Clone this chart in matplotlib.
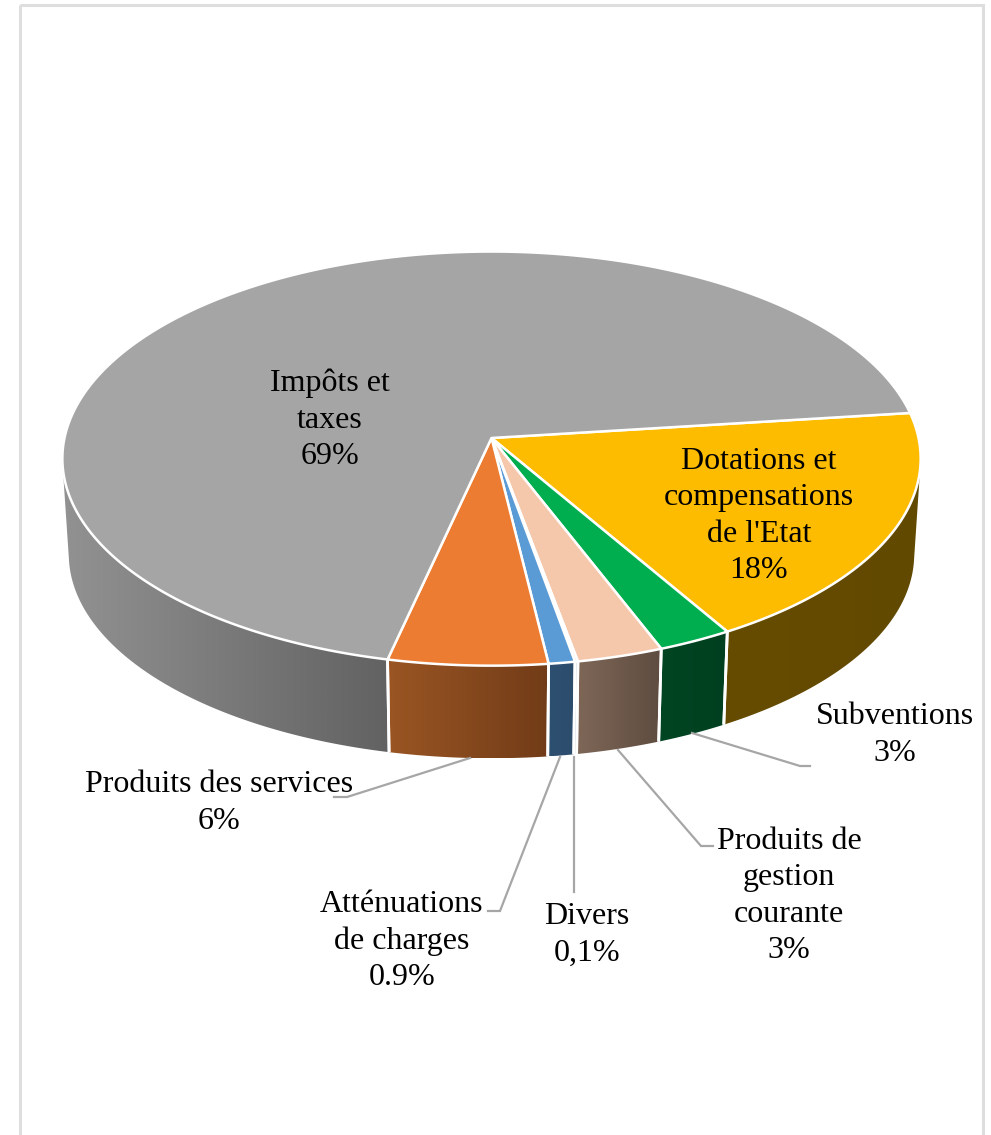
import numpy as np
import matplotlib
matplotlib.use("Agg")
import matplotlib.pyplot as plt
from matplotlib.patches import Polygon, Rectangle
from matplotlib.colors import to_rgb

# ---- data (clockwise from the Dotations slice) ----
categories = ["Dotations et\ncompensations\nde l'Etat", "Subventions", "Produits de\ngestion\ncourante",
              "Divers", "Atténuations\nde charges", "Produits des services", "Impôts et\ntaxes"]
shown_labels = ["18%", "3%", "3%", "0,1%", "0.9%", "6%", "69%"]
values = [18.55, 2.55, 2.95, 0.1, 0.9, 5.45, 69.5]

top_colors = ["#fdbc00", "#00ae4f", "#f5c8ab", "#f5d5c0", "#5b9bd5", "#eb7c31", "#a5a5a5"]
wall_left = ["#664c00", "#004522", "#7e6757", "#0f2d4a", "#2e5070", "#9a5523", "#929292"]
wall_right = ["#624900", "#004020", "#5e4c40", "#0f2d4a", "#2c4c6c", "#713c18", "#626262"]

label_pos = [(759, 516), (895, 735), (789, 896), (587, 935), (402, 941), (219, 803), (330, 420)]
leaders = [None,
           [(692, 733), (800, 766), (810, 766)],
           [(618, 750), (701, 846), (713, 846)],
           [(574, 757), (574, 892)],
           [(560, 757), (500, 911), (488, 911)],
           [(470, 758), (347, 797), (334, 797)],
           None]

# ---- geometry of the tilted disc ----
CX, CY = 491.5, 438.0
SX, SY = 427.0, 205.0
K = 0.0995
START_DEG = 7.1
DEPTH, SHRINK = 96.0, 0.985


def project(theta_deg, scale=1.0, dy=0.0):
    t = np.radians(theta_deg)
    X, Y = np.cos(t), np.sin(t)
    w = 1 + K * Y
    return CX + scale * SX * X / w, CY + dy - scale * SY * Y / w


fig = plt.figure(figsize=(9.91, 11.35), dpi=100, facecolor="white")
ax = fig.add_axes([0, 0, 1, 1])
ax.set_xlim(0, 991)
ax.set_ylim(1135, 0)
ax.axis("off")

ax.add_patch(Rectangle((20.0, 5.0), 962.5, 1160, fill=False, ec="#dedede", lw=2.2, zorder=0))

ends = START_DEG - np.cumsum(values) * 3.6
starts = np.concatenate([[START_DEG], ends[:-1]])

# visible side wall: the front part of the rim between the two silhouette tangents
FRONT = (-173.0, -7.0)
for i in [6, 5, 4, 3, 2, 1, 0]:
    a, b = starts[i], ends[i]
    intervals = []
    for shift in (0, -360):
        hi = min(a + shift, FRONT[1])
        lo = max(b + shift, FRONT[0])
        if hi > lo:
            intervals.append((lo, hi))
    for lo, hi in intervals:
        th = np.linspace(lo, hi, 120)
        tx, ty = project(th)
        bx, by = project(th, SHRINK, DEPTH)
        poly = np.column_stack([np.r_[tx, bx[::-1]], np.r_[ty, by[::-1]]])
        patch = Polygon(poly, closed=True, fc="none", ec="none", zorder=1)
        ax.add_patch(patch)
        x0, x1 = poly[:, 0].min(), poly[:, 0].max()
        grad = np.linspace(to_rgb(wall_left[i]), to_rgb(wall_right[i]), 256)[None, :, :]
        im = ax.imshow(grad, extent=(x0, x1, poly[:, 1].max(), poly[:, 1].min()),
                       aspect="auto", zorder=1, interpolation="bilinear")
        im.set_clip_path(patch)
        # white separators on the wall at slice boundaries
        for e in (lo, hi):
            if FRONT[0] < e < FRONT[1]:
                p, q = project(e), project(e, SHRINK, DEPTH)
                ax.plot([p[0], q[0]], [p[1], q[1]], color="white", lw=2.0, zorder=2,
                        solid_capstyle="butt")

ax.set_xlim(0, 991)
ax.set_ylim(1135, 0)

# top face wedges
for i in range(len(values)):
    th = np.linspace(starts[i], ends[i], 300)
    x, y = project(th)
    poly = np.column_stack([np.r_[CX, x], np.r_[CY, y]])
    ax.add_patch(Polygon(poly, closed=True, fc=top_colors[i], ec="white", lw=1.8,
                         joinstyle="round", zorder=3))

# leaders
for pts in leaders:
    if pts is not None:
        p = np.array(pts)
        ax.plot(p[:, 0], p[:, 1], color="#a6a6a6", lw=1.6, zorder=4, solid_joinstyle="miter")

# labels
for name, pct, (lx, ly) in zip(categories, shown_labels, label_pos):
    ax.text(lx, ly, f"{name}\n{pct}", ha="center", va="center", multialignment="center",
            fontfamily="Liberation Serif", fontsize=23, color="black", linespacing=1.34, zorder=5)

fig.savefig("out.png", dpi=100, facecolor="white")
